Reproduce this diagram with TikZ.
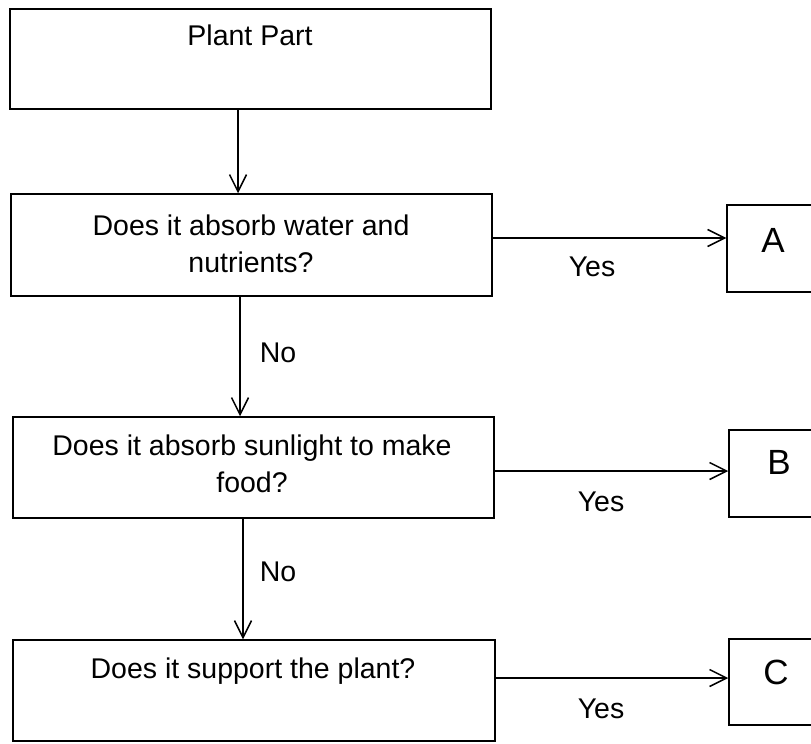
\documentclass[tikz,border=0pt]{standalone}
\usepackage{fontspec}
\setmainfont{Liberation Sans}
\usetikzlibrary{arrows.meta}
\begin{document}
\begin{tikzpicture}[x=1pt,y=-1pt,
  box/.style={draw=black, line width=1.5pt, rectangle, inner sep=0pt},
  txt/.style={font=\fontsize{28.5}{37}\selectfont, inner sep=0pt, anchor=base},
  lbl/.style={font=\fontsize{28.5}{37}\selectfont, inner sep=0pt, anchor=center},
  big/.style={font=\fontsize{35}{40}\selectfont, inner sep=0pt, anchor=center},
  arr/.style={line width=1.5pt, -{Straight Barb[length=17pt,width=17pt,line width=1.5pt]}}]
\useasboundingbox (0,0) rectangle (811,744);
\fill[white] (0,0) rectangle (811,744);
% question boxes
\node[box, minimum width=481pt, minimum height=100pt] (q1) at (250.5,59) {};
\node[box, minimum width=481pt, minimum height=102pt] (q2) at (251.5,245) {};
\node[box, minimum width=481pt, minimum height=101pt] (q3) at (253.5,467.5) {};
\node[box, minimum width=482pt, minimum height=101pt] (q4) at (254,690.5) {};
% answer boxes (cut off at the right edge)
\node[box, minimum width=96pt, minimum height=87pt] (A) at (775,248.5) {};
\node[box, minimum width=96pt, minimum height=87pt] (B) at (777,473.5) {};
\node[box, minimum width=96pt, minimum height=86pt] (C) at (777,682) {};
% texts
\node[txt] (t1) at (250,45) {Plant Part};
\node[txt] (t2a) at (251,235) {Does it absorb water and};
\node[txt] (t2b) at (251,272) {nutrients?};
\node[txt] (t3a) at (252,455) {Does it absorb sunlight to make};
\node[txt] (t3b) at (252,492) {food?};
\node[txt] (t4) at (253,678) {Does it support the plant?};
\node[big] (lA) at (773,240) {A};
\node[big] (lB) at (779,462) {B};
\node[big] (lC) at (776,672) {C};
% connector positions
\coordinate (x1) at (238,0);
\coordinate (x2) at (240,0);
\coordinate (x3) at (243,0);
\coordinate (ya) at (0,238);
\coordinate (yb) at (0,471);
\coordinate (yc) at (0,678);
% vertical connectors
\draw[arr] (q1.south -| x1) -- (q2.north -| x1);
\draw[arr] (q2.south -| x2) -- (q3.north -| x2);
\draw[arr] (q3.south -| x3) -- (q4.north -| x3);
% horizontal connectors
\draw[arr] (q2.east |- ya) -- (A.west |- ya);
\draw[arr] (q3.east |- yb) -- (B.west |- yb);
\draw[arr] (q4.east |- yc) -- (C.west |- yc);
% labels
\node[lbl] (no1) at (278,353) {No};
\node[lbl] (no2) at (278,572) {No};
\node[lbl] (yes1) at (592,267) {Yes};
\node[lbl] (yes2) at (601,502) {Yes};
\node[lbl] (yes3) at (601,709) {Yes};
\end{tikzpicture}
\end{document}
